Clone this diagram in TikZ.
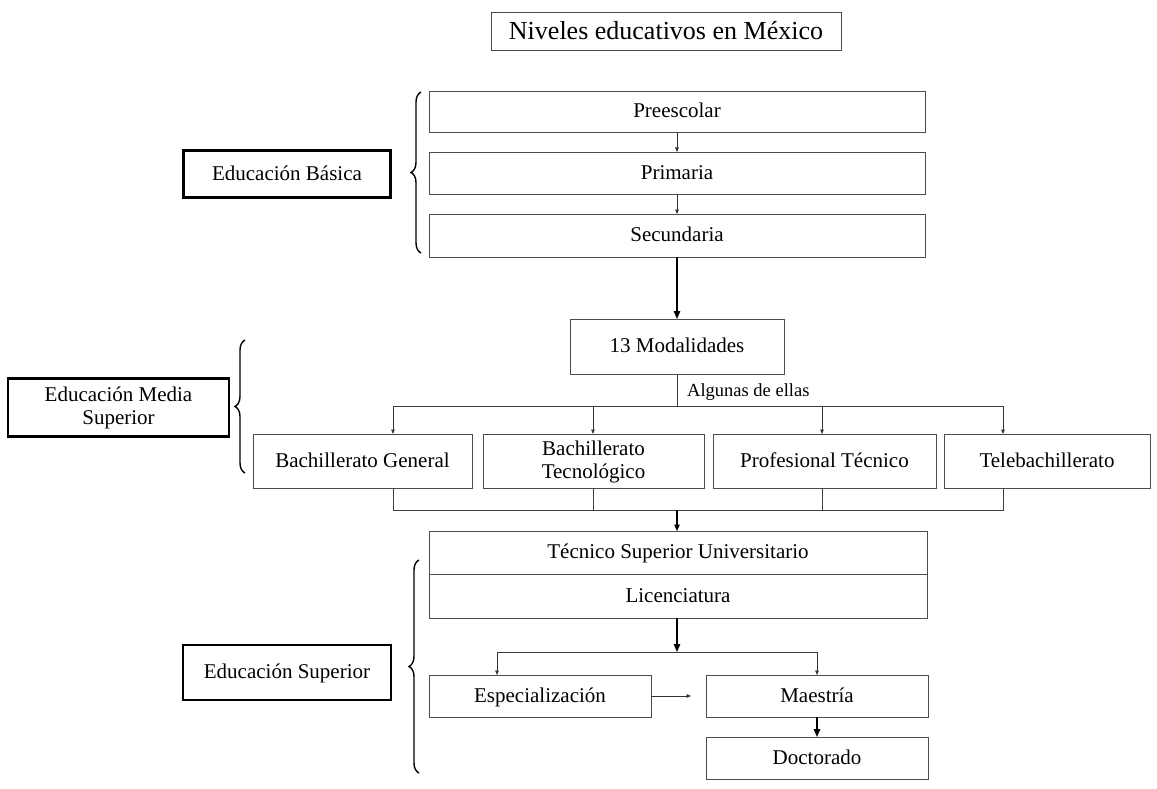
\documentclass[tikz,border=0pt]{standalone}
\usepackage{fontspec}
\setmainfont{Liberation Serif}
\usetikzlibrary{arrows.meta,decorations.pathreplacing}

\tikzset{
  box/.style={draw=black!70, line width=0.8pt, rectangle, inner sep=0pt, outer sep=0pt,
    align=center, font=\fontsize{21}{23}\selectfont, text height=17pt, text depth=4.5pt},
  twoline/.style={text height=38.5pt, text depth=4.5pt},
  levelbox/.style={draw=black, line width=2.6pt, rectangle, inner sep=0pt, outer sep=0pt,
    align=center, font=\fontsize{21}{23}\selectfont, text height=17pt, text depth=4.5pt},
  thinline/.style={draw=black!75, line width=0.8pt},
  smallarrow/.style={draw=black!80, line width=0.8pt, -{Triangle[length=4.5pt,width=3.6pt]}},
  bigarrow/.style={draw=black, line width=1.4pt, -{Triangle[length=8pt,width=6.5pt]}},
  curly/.style={draw=black, line width=1.4pt, decorate,
    decoration={brace, amplitude=10pt, aspect=0.5}},
}

\begin{document}
\begin{tikzpicture}[x=1pt, y=-1pt]
\useasboundingbox (0,0) rectangle (1157,789);

% title
\node[box, font=\fontsize{26}{28}\selectfont, text height=22pt, text depth=5pt,
  minimum width=350pt, minimum height=38pt]
  (title) at (666,31) {Niveles educativos en México};

% basic education
\node[box, minimum width=496pt, minimum height=41pt] (pre) at (677,111.5) {Preescolar};
\node[box, minimum width=496pt, minimum height=42pt] (pri) at (677,173) {Primaria};
\node[box, minimum width=496pt, minimum height=43pt] (sec) at (677,235.5) {Secundaria};
\draw[smallarrow] (pre.south) -- (pri.north);
\draw[smallarrow] (pri.south) -- (sec.north);

\node[levelbox, minimum width=207pt, minimum height=47pt] (eb) at (287,174) {Educación Básica};
\draw[curly] (421,253) -- (421,92);

% upper secondary
\node[box, minimum width=214pt, minimum height=55pt] (mod) at (677,346.5) {13 Modalidades};
\draw[bigarrow] (sec.south) -- (mod.north);

\node[box, minimum width=219pt, minimum height=54pt] (bg) at (362.5,461) {Bachillerato General};
\node[box, twoline, minimum width=221pt, minimum height=54pt] (bt) at (593.5,461) {Bachillerato\\Tecnológico};
\node[box, minimum width=223pt, minimum height=54pt] (pt) at (824.5,461) {Profesional Técnico};
\node[box, minimum width=206pt, minimum height=54pt] (tb) at (1047,461) {Telebachillerato};

\coordinate (split) at (677,406);
\coordinate (a1) at (393,406);
\coordinate (a2) at (593,406);
\coordinate (a3) at (822,406);
\coordinate (a4) at (1003,406);
\draw[thinline] (mod.south) -- (split);
\draw[thinline] (a1) -- (a4);
\node[anchor=south west, inner sep=0pt, font=\fontsize{18.5}{20}\selectfont]
  (some) at (687,401) {Algunas de ellas};
\draw[smallarrow] (a1) -- (a1 |- bg.north);
\draw[smallarrow] (a2) -- (a2 |- bt.north);
\draw[smallarrow] (a3) -- (a3 |- pt.north);
\draw[smallarrow] (a4) -- (a4 |- tb.north);

\node[levelbox, twoline, minimum width=221pt, minimum height=58pt] (ems) at (118.5,407.5) {Educación Media\\Superior};
\draw[curly] (245,473) -- (245,340);

% higher education
\node[box, minimum width=498pt, minimum height=43pt] (tsu) at (678,552.5) {Técnico Superior Universitario};
\node[box, minimum width=498pt, minimum height=44pt] (lic) at (678,596) {Licenciatura};

\coordinate (m1) at (393,510);
\coordinate (m2) at (593,510);
\coordinate (m3) at (822,510);
\coordinate (m4) at (1003,510);
\coordinate (join) at (677,510);
\draw[thinline] (m1 |- bg.south) -- (m1) -- (m4) -- (m4 |- tb.south);
\draw[thinline] (m2 |- bt.south) -- (m2);
\draw[thinline] (m3 |- pt.south) -- (m3);
\draw[draw=black, line width=1.1pt, -{Triangle[length=6.5pt,width=5.5pt]}] (join) -- (join |- tsu.north);

\node[box, minimum width=222pt, minimum height=42pt] (esp) at (540,696) {Especialización};
\node[box, minimum width=222pt, minimum height=42pt] (mae) at (817,696) {Maestría};
\node[box, minimum width=222pt, minimum height=42pt] (doc) at (817,758) {Doctorado};

\coordinate (fork) at (677,652);
\coordinate (f1) at (497,652);
\coordinate (f2) at (817,652);
\draw[bigarrow] (lic.south -| fork) -- (fork);
\draw[thinline] (f1) -- (f2);
\draw[smallarrow] (f1) -- (f1 |- esp.north);
\draw[smallarrow] (f2) -- (mae.north);
\coordinate (espto) at (691,696);
\draw[smallarrow] (esp.east) -- (espto);
\draw[bigarrow] (mae.south) -- (doc.north);

\node[levelbox, minimum width=208pt, minimum height=55pt] (es) at (287,672.5) {Educación Superior};
\draw[curly] (419,773) -- (419,560);
\end{tikzpicture}
\end{document}
